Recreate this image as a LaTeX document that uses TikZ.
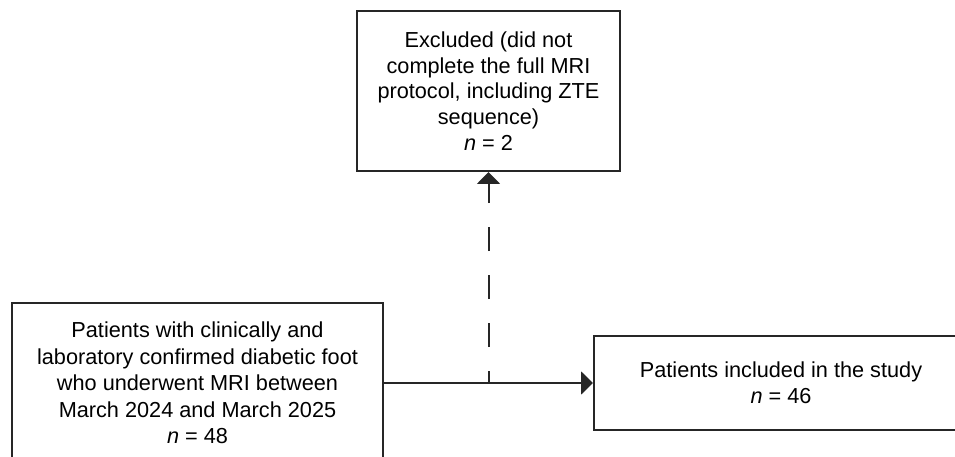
\documentclass[tikz,border=0pt]{standalone}
\usepackage{fontspec}
\setmainfont{Liberation Sans}
\usetikzlibrary{arrows.meta}

\begin{document}
\begin{tikzpicture}[x=1pt,y=-1pt,
  box/.style={draw=black!85, line width=2pt, align=center, inner sep=0pt,
    font=\fontsize{21.7}{26.4}\selectfont},
  flow/.style={draw=black!85, line width=2pt, -{Triangle[length=12pt,width=23pt]}}]
\useasboundingbox (0,0) rectangle (955,457);
\clip (0,0) rectangle (955,457);
\path
(488.5,91) node[box, minimum width=263pt, minimum height=160pt,
  font=\fontsize{21.7}{25.6}\selectfont] (excl)
  {Excluded (did not\\complete the full MRI\\protocol, including ZTE\\sequence)\\\textit{n} = 2}
(197.5,383) node[box, minimum width=371pt, minimum height=160pt] (elig)
  {Patients with clinically and\\laboratory confirmed diabetic foot\\who underwent MRI between\\March 2024 and March 2025\\\textit{n} = 48}
(781,383) node[box, minimum width=374pt, minimum height=94pt] (incl)
  {Patients included in the study\\\textit{n} = 46};
%split point for the excluded branch
\path (elig) to coordinate[pos=0.5] (split) (incl);
\draw[flow] (elig) -- (incl);
\draw[flow, dash pattern=on 24pt off 24pt, dash phase=12pt] (split) -- (excl);
\end{tikzpicture}
\end{document}
